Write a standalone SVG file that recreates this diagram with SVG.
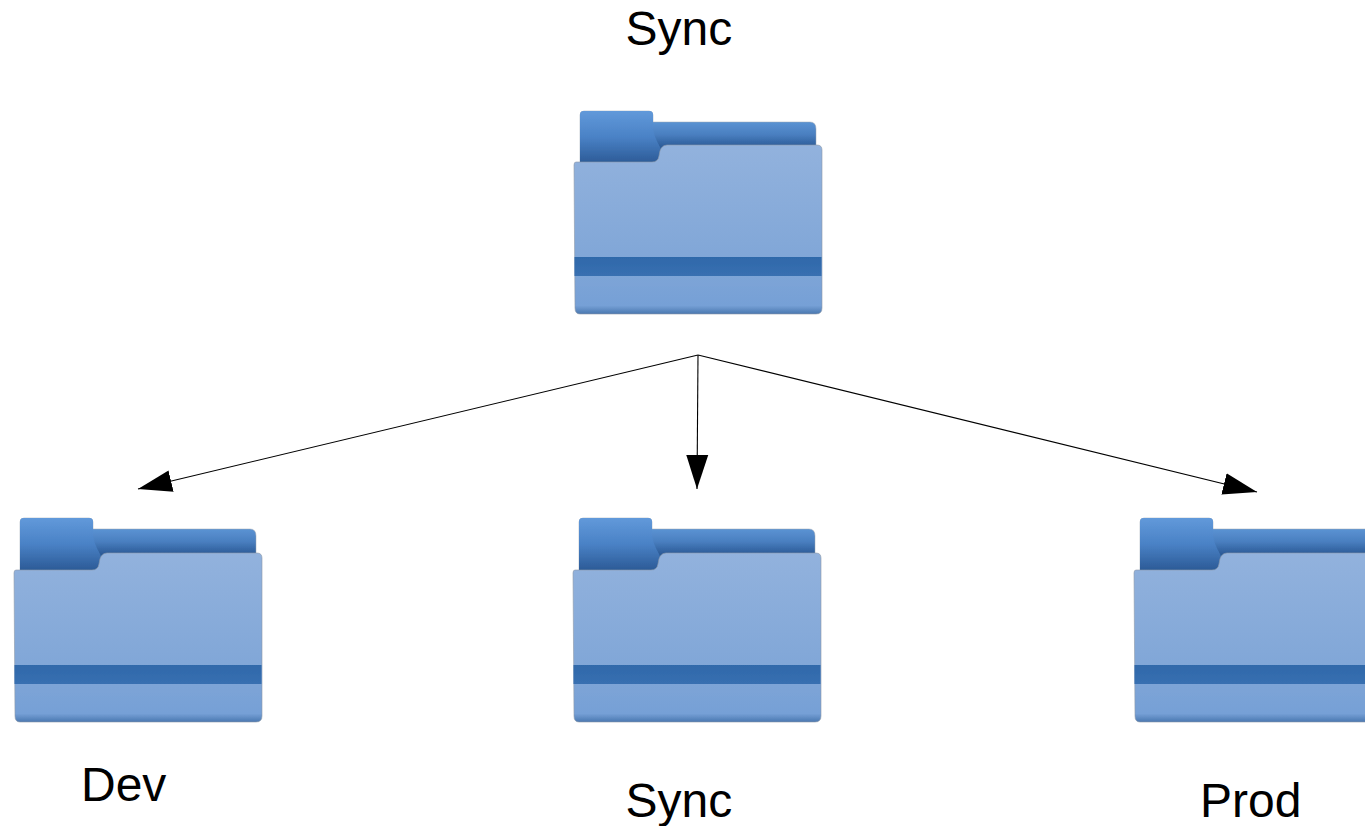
<svg xmlns="http://www.w3.org/2000/svg" width="1365" height="826" viewBox="0 0 1365 826">
<style>
.label{font-family:"Liberation Sans",Arial,sans-serif;font-size:48px;fill:#000}
.conn{fill:none;stroke:#000;stroke-width:1.1;marker-end:url(#arrow)}
</style>
<defs>
<marker id="arrow" markerUnits="userSpaceOnUse" markerWidth="36" markerHeight="24" refX="34" refY="12" orient="auto" viewBox="0 0 36 24"><path d="M0,1 L34,12 L0,23 Z" fill="#000"/></marker>
<linearGradient id="tabG" gradientUnits="userSpaceOnUse" x1="0" y1="0" x2="0" y2="52"><stop offset="0" stop-color="#6199da"/><stop offset="0.5" stop-color="#4a82c6"/><stop offset="1" stop-color="#2c5b97"/></linearGradient>
<linearGradient id="backG" gradientUnits="userSpaceOnUse" x1="0" y1="11" x2="0" y2="36"><stop offset="0" stop-color="#5b93d3"/><stop offset="0.5" stop-color="#4a7fc0"/><stop offset="1" stop-color="#2c5b97"/></linearGradient>
<linearGradient id="frontG" x1="0" y1="0" x2="0" y2="1"><stop offset="0" stop-color="#92b2dd"/><stop offset="0.7" stop-color="#80a6d7"/><stop offset="0.95" stop-color="#76a0d6"/><stop offset="1" stop-color="#4a78b0"/></linearGradient>
<linearGradient id="stripeG" x1="0" y1="0" x2="0" y2="1"><stop offset="0" stop-color="#2f69aa"/><stop offset="1" stop-color="#386fb1"/></linearGradient>
<filter id="soft" x="-3%" y="-3%" width="106%" height="106%"><feGaussianBlur stdDeviation="0.7"/></filter>
<g id="folder-back" filter="url(#soft)">
<path d="M6,52 V4 Q6,0 10,0 H75 Q79,0 79,4 V11 H236 Q242,11 242,18 V40 H92 V52 Z" fill="url(#backG)" stroke="#9aa5b3" stroke-width="0.5"/>
<path d="M6,52 V4 Q6,0 10,0 H75 Q79,0 79,4 V16 Q79,24 86,36 L92,52 Z" fill="url(#tabG)"/>
</g>
<g id="folder-front" filter="url(#soft)">
<path d="M2,51 H78 Q84,51 85,45 Q86,34 93,34 H243 Q248,34 248,39 V197 Q248,203 242,203 H6 Q1,203 1,197 L0,54 Q0,51 2,51 Z" fill="url(#frontG)" stroke="#8d99a8" stroke-width="0.6"/>
<rect x="0.5" y="146" width="247" height="19" fill="url(#stripeG)"/>
</g>
</defs>
<g id="connectors">
<line class="conn" x1="698" y1="355" x2="138" y2="489"/>
<line class="conn" x1="698" y1="355" x2="697" y2="489"/>
<line class="conn" x1="698" y1="355" x2="1257" y2="492"/>
</g>
<g id="node-sync-top"><use href="#folder-back" x="574" y="111"/><use href="#folder-front" x="574" y="111"/><text class="label" x="625.5" y="44.5">Sync</text></g>
<g id="node-dev"><use href="#folder-back" x="14" y="518"/><use href="#folder-front" x="14" y="519"/><text class="label" x="81" y="800.5">Dev</text></g>
<g id="node-sync"><use href="#folder-back" x="573" y="518"/><use href="#folder-front" x="573" y="519"/><text class="label" x="625.5" y="816.5">Sync</text></g>
<g id="node-prod"><use href="#folder-back" x="1134" y="518"/><use href="#folder-front" x="1134" y="519"/><text class="label" x="1200" y="816.5">Prod</text></g>
</svg>
